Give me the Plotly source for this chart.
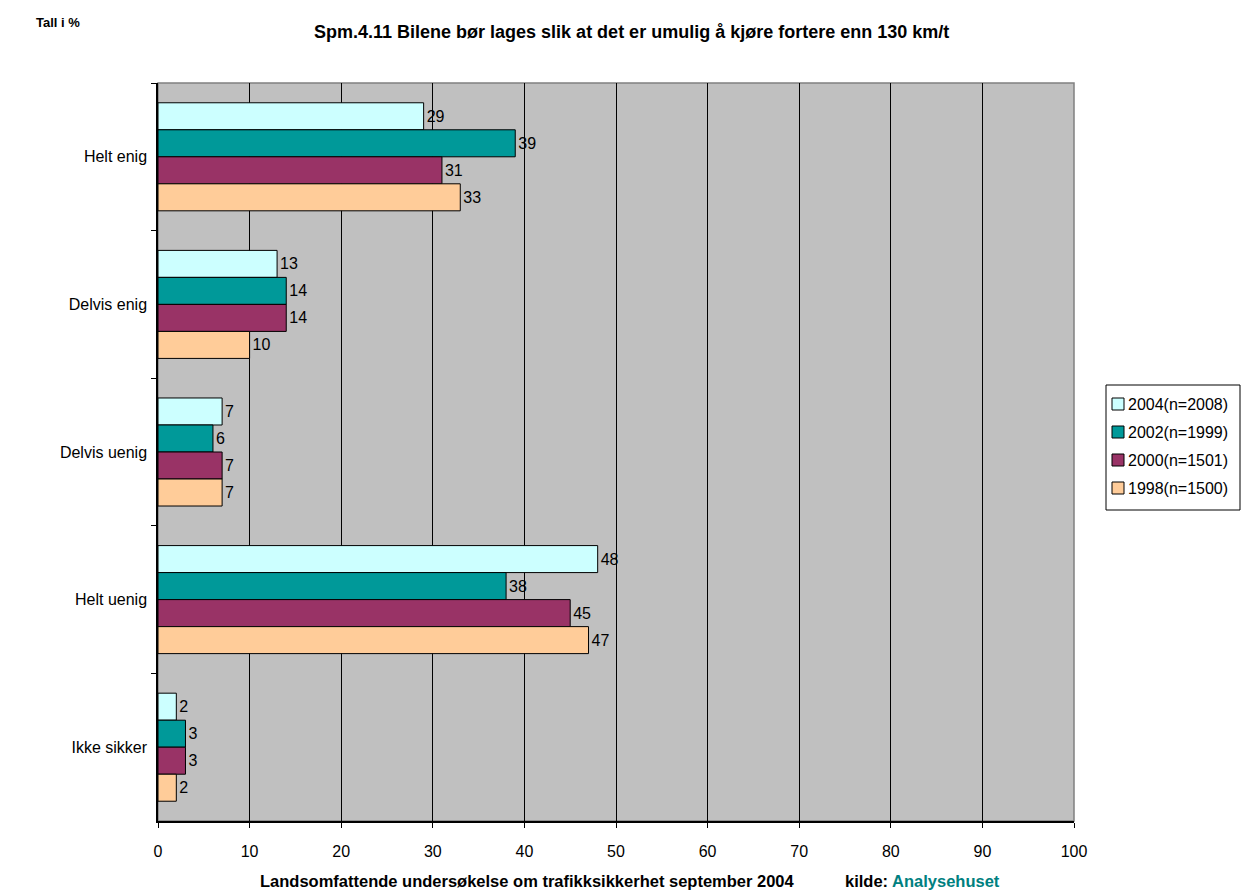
import plotly.graph_objects as go

# Survey answers (percent) per year
categories = ["Helt enig", "Delvis enig", "Delvis uenig", "Helt uenig", "Ikke sikker"]
series_names = ["2004(n=2008)", "2002(n=1999)", "2000(n=1501)", "1998(n=1500)"]
values_2004 = [29, 13, 7, 48, 2]
values_2002 = [39, 14, 6, 38, 3]
values_2000 = [31, 14, 7, 45, 3]
values_1998 = [33, 10, 7, 47, 2]
series_values = [values_2004, values_2002, values_2000, values_1998]
series_colors = ["#CCFFFF", "#009999", "#993366", "#FFCC99"]
x_ticks = list(range(0, 101, 10))

FONT = "Liberation Sans, Arial, sans-serif"
W, H = 1241, 892
PL, PT, PR, PB = 158, 83, 1074, 821  # plot area edges in pixels


def px_x(px):
    return (px - PL) / (PR - PL)


def px_y(py):
    return (PB - py) / (PB - PT)


fig = go.Figure()
for name, vals, col in zip(series_names, series_values, series_colors):
    fig.add_trace(go.Bar(
        y=categories, x=vals, name=name, orientation="h",
        marker=dict(color=col, line=dict(color="black", width=1)),
        text=[str(v) for v in vals], textposition="outside",
        textfont=dict(family=FONT, size=16, color="black"),
        cliponaxis=False, showlegend=False,
    ))

# Plot area frame (grey top/right edges)
shapes = [dict(type="rect", xref="paper", yref="paper", x0=0, x1=1, y0=0, y1=1,
               line=dict(color="#808080", width=1.5), fillcolor="rgba(0,0,0,0)",
               layer="below")]
annotations = []

# Compact legend box at the right
legend_left, legend_top, legend_right, legend_bottom = 1106, 385, 1240, 510
row_step = 28
first_row = 404
shapes.append(dict(type="rect", xref="paper", yref="paper",
                   x0=px_x(legend_left), x1=px_x(legend_right),
                   y0=px_y(legend_bottom), y1=px_y(legend_top),
                   line=dict(color="black", width=1), fillcolor="white"))
for i, (name, col) in enumerate(zip(series_names, series_colors)):
    yc = first_row + i * row_step
    shapes.append(dict(type="rect", xref="paper", yref="paper",
                       x0=px_x(1112), x1=px_x(1124),
                       y0=px_y(yc + 6), y1=px_y(yc - 6),
                       line=dict(color="black", width=1), fillcolor=col))
    annotations.append(dict(text=name, xref="paper", yref="paper",
                            x=px_x(1126), y=px_y(yc),
                            xanchor="left", yanchor="middle", showarrow=False,
                            font=dict(family=FONT, size=16, color="black")))

annotations += [
    dict(text="<b>Spm.4.11 Bilene bør lages slik at det er umulig å kjøre fortere enn 130 km/t</b>",
         xref="paper", yref="paper", x=px_x(631), y=px_y(32),
         xanchor="center", yanchor="middle", showarrow=False,
         font=dict(family=FONT, size=18, color="black")),
    dict(text="<b>Tall i %</b>", xref="paper", yref="paper",
         x=px_x(34), y=px_y(22), xanchor="left", yanchor="middle",
         showarrow=False, font=dict(family=FONT, size=13, color="black")),
    dict(text="<b>Landsomfattende undersøkelse om trafikksikkerhet september 2004</b>",
         xref="paper", yref="paper", x=px_x(527), y=px_y(881),
         xanchor="center", yanchor="middle", showarrow=False,
         font=dict(family=FONT, size=16.5, color="black")),
    dict(text="<b>kilde: <span style='color:#008080'>Analysehuset</span></b>",
         xref="paper", yref="paper", x=px_x(843), y=px_y(881),
         xanchor="left", yanchor="middle", showarrow=False,
         font=dict(family=FONT, size=16.5, color="black")),
]

fig.update_layout(
    width=W, height=H,
    margin=dict(l=PL, r=W - PR, t=PT, b=H - PB),
    paper_bgcolor="white", plot_bgcolor="#C0C0C0",
    barmode="group", bargap=0.268, bargroupgap=0,
    font=dict(family=FONT, size=16, color="black"),
    showlegend=False,
    xaxis=dict(range=[0, 100], tickvals=x_ticks, ticktext=[str(t) for t in x_ticks],
               showgrid=True, gridcolor="black", gridwidth=1,
               showline=True, linecolor="black", linewidth=1.5,
               ticks="outside", ticklen=5, tickcolor="black", ticklabelstandoff=10,
               tickfont=dict(family=FONT, size=16), zeroline=False, fixedrange=True),
    yaxis=dict(autorange="reversed", showline=True, linecolor="black", linewidth=1.5,
               ticks="outside", ticklen=5, tickcolor="black", tickson="boundaries",
               showgrid=False, tickfont=dict(family=FONT, size=16), ticklabelstandoff=6),
    shapes=shapes,
    annotations=annotations,
)

fig.write_html("out.html")
